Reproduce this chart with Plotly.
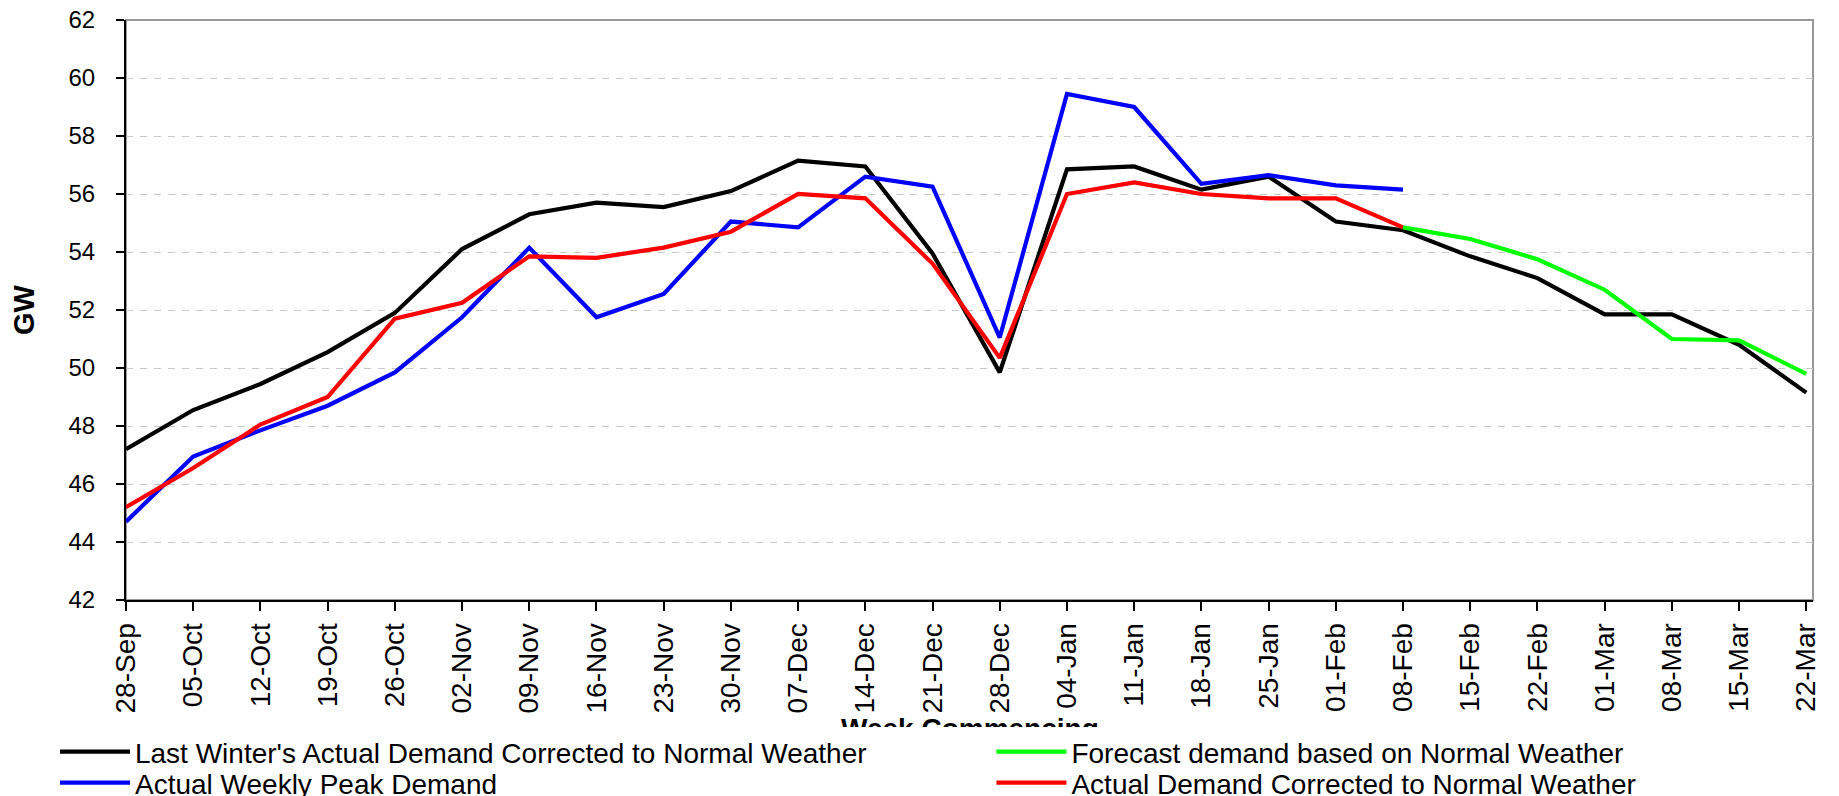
import plotly.graph_objects as go

# week commencing labels
weeks = [
    "28-Sep", "05-Oct", "12-Oct", "19-Oct", "26-Oct", "02-Nov", "09-Nov",
    "16-Nov", "23-Nov", "30-Nov", "07-Dec", "14-Dec", "21-Dec", "28-Dec",
    "04-Jan", "11-Jan", "18-Jan", "25-Jan", "01-Feb", "08-Feb", "15-Feb",
    "22-Feb", "01-Mar", "08-Mar", "15-Mar", "22-Mar",
]

# GW
last_winter = [
    47.2, 48.55, 49.45, 50.55, 51.9, 54.1, 55.3, 55.7, 55.55, 56.1, 57.15,
    56.95, 53.95, 49.85, 56.85, 56.95, 56.15, 56.6, 55.05, 54.75, 53.85,
    53.1, 51.85, 51.85, 50.8, 49.15,
]
weekly_peak = [
    44.7, 46.95, 47.85, 48.7, 49.85, 51.75, 54.15, 51.75, 52.55, 55.05,
    54.85, 56.6, 56.25, 51.05, 59.45, 59.0, 56.35, 56.65, 56.3, 56.15,
]
corrected = [
    45.2, 46.55, 48.05, 49.0, 51.7, 52.25, 53.85, 53.8, 54.15, 54.7, 56.0,
    55.85, 53.6, 50.35, 56.0, 56.4, 56.0, 55.85, 55.85, 54.85,
]
forecast_weeks = weeks[19:]
forecast = [54.85, 54.45, 53.75, 52.7, 51.0, 50.95, 49.8]

FONT = "Liberation Sans, Arial, sans-serif"
LW = 4.2

fig = go.Figure()
fig.add_scatter(x=weeks, y=last_winter, mode="lines", legend="legend",
                name="Last Winter's Actual Demand Corrected to Normal Weather",
                line=dict(color="#000000", width=LW))
fig.add_scatter(x=weeks[:len(weekly_peak)], y=weekly_peak, mode="lines",
                legend="legend2", name="Actual Weekly Peak Demand",
                line=dict(color="#0000FF", width=LW))
fig.add_scatter(x=weeks[:len(corrected)], y=corrected, mode="lines",
                legend="legend4", name="Actual Demand Corrected to Normal Weather",
                line=dict(color="#FF0000", width=LW))
fig.add_scatter(x=forecast_weeks, y=forecast, mode="lines", legend="legend3",
                name="Forecast demand based on Normal Weather",
                line=dict(color="#00FF00", width=LW))

# grey frame on top/right, axis lines drawn over it
fig.add_shape(type="rect", xref="paper", yref="paper", x0=0, x1=1, y0=0, y1=1,
              line=dict(color="#999999", width=2), layer="below")

# x-axis title as an annotation so it can sit just under the tick labels;
# the white legend boxes cover its lower half, as in the original
fig.add_annotation(text="<b>Week Commencing</b>", xref="paper", yref="paper",
                   x=0.5, y=-0.2224, xanchor="center", yanchor="middle",
                   showarrow=False, font=dict(family=FONT, size=28))


def legend_box(x, y, bg="rgba(0,0,0,0)", **kw):
    return dict(x=x, y=y, xanchor="left", yanchor="middle", itemwidth=70,
                bgcolor=bg, font=dict(family=FONT, size=28, color="black"), **kw)


# the page body has an 8px margin, so the figure is a bit smaller than the
# window
fig.update_layout(
    width=1831, height=788,
    paper_bgcolor="white", plot_bgcolor="white",
    font=dict(family=FONT, color="black", size=24),
    margin=dict(l=118, r=26, t=12, b=196, autoexpand=False),
    showlegend=True,
    legend=legend_box(-0.0421, -0.262, "white", orientation="h",
                      entrywidth=860, entrywidthmode="pixels"),
    legend2=legend_box(-0.0421, -0.3155),
    legend3=legend_box(0.5130, -0.262, "white"),
    legend4=legend_box(0.5130, -0.3155),
)
fig.update_xaxes(
    type="category", range=[0, 25.1], tickangle=-90, automargin=False,
    tickfont=dict(family=FONT, size=28),
    showline=True, linecolor="black", linewidth=2,
    ticks="outside", ticklen=9, tickcolor="black", tickwidth=1.5,
    ticklabelstandoff=1,
    showgrid=False, zeroline=False,
)
fig.update_yaxes(
    range=[42, 62], dtick=2, automargin=False, ticklabeloverflow="allow",
    tickfont=dict(family=FONT, size=24),
    showline=True, linecolor="black", linewidth=2,
    ticks="outside", ticklen=8, tickcolor="black", tickwidth=1.5,
    ticklabelstandoff=16,
    showgrid=True, gridcolor="#C8C8C8", griddash="7px,7px", gridwidth=1.2,
    zeroline=False,
    title=dict(text="<b>GW</b>", standoff=48,
               font=dict(family=FONT, size=29)),
)

# legends are drawn before annotations; move them last so they sit on top
lift_legends = """
var gd = document.getElementById('{plot_id}');
var info = gd.querySelector('.infolayer');
['legend', 'legend3', 'legend2', 'legend4'].forEach(function (c) {
    var node = info.querySelector(':scope > g.' + c);
    if (node) info.appendChild(node);
});
"""

fig.write_html("out.html", post_script=lift_legends)
